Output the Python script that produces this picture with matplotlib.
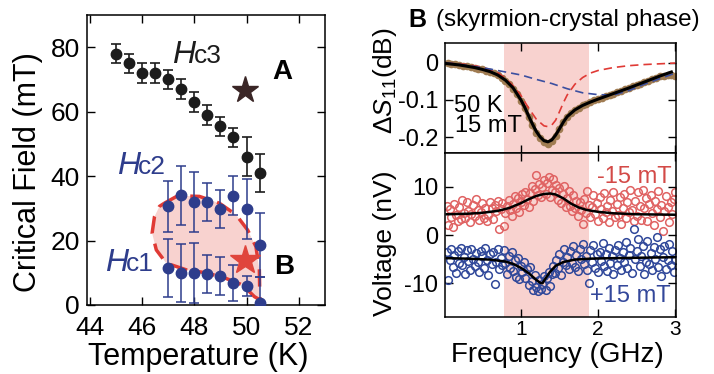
import numpy as np
import matplotlib
matplotlib.use('Agg')
import matplotlib.pyplot as plt

plt.rcParams['font.family'] = ['Liberation Sans', 'DejaVu Sans']
plt.rcParams['axes.unicode_minus'] = False
plt.rcParams['mathtext.fontset'] = 'custom'
plt.rcParams['mathtext.it'] = 'Liberation Sans:italic'
plt.rcParams['mathtext.rm'] = 'Liberation Sans'

# ---- panel A: critical fields vs temperature ----
temp_c3 = [45, 45.5, 46, 46.5, 47, 47.5, 48, 48.5, 49, 49.5, 50, 50.5]
hc3 = [78, 75, 72, 72, 70, 67, 63, 59, 55.5, 52, 46, 41]
hc3_err = [3, 3, 3, 3, 3, 3, 3, 3, 3, 3, 6, 6]

temp_c12 = [47, 47.5, 48, 48.5, 49, 49.5, 50, 50.5]
hc2 = [30.6, 34, 32, 32, 29.8, 33.9, 29.7, 18.6]
hc2_err = [7.8, 9.2, 9.3, 6, 6, 6, 9.3, 10]
hc1 = [11.4, 9.9, 10, 9.6, 9.0, 6.8, 5.9, 0.7]
hc1_err = [9, 9, 9.3, 6, 6, 5.7, 3, 8]

# skyrmion pocket outline (T, H)
pocket_t = [46.86, 47.37, 48.2, 48.96, 49.6, 50.04, 50.36, 50.49, 50.51, 50.3,
            49.85, 49.2, 48.45, 47.7, 46.93, 46.55, 46.39, 46.48, 46.67, 46.86]
pocket_h = [31.6, 33.9, 33.7, 31.6, 28, 23.3, 18.1, 10.9, 1.6, 2.6,
            6.2, 8.3, 10, 10.9, 13, 17.1, 22.3, 27.4, 30.6, 31.6]

star_a = (49.95, 66.6)
star_b = (49.95, 14)

# ---- panel B top: delta S11 ----
s11_data_f = [0.05, 0.10, 0.15, 0.20, 0.25, 0.30, 0.35, 0.40, 0.45, 0.50,
              0.55, 0.60, 0.65, 0.70, 0.75, 0.80, 0.85, 0.90, 0.95, 1.00,
              1.05, 1.10, 1.15, 1.20, 1.25, 1.30, 1.35, 1.40, 1.45, 1.50,
              1.55, 1.60, 1.65, 1.70, 1.75, 1.80, 1.85, 1.90, 1.95, 2.00,
              2.05, 2.10, 2.15, 2.20, 2.25, 2.30, 2.35, 2.40, 2.45, 2.50,
              2.55, 2.60, 2.65, 2.70, 2.75, 2.80, 2.85, 2.90, 2.95, 3.00]
s11_data = [-0.002, -0.003, -0.004, -0.006, -0.008, -0.010, -0.011, -0.013, -0.016, -0.018,
            -0.021, -0.024, -0.028, -0.033, -0.040, -0.048, -0.058, -0.070, -0.085, -0.102,
            -0.122, -0.145, -0.168, -0.188, -0.203, -0.214, -0.218, -0.212, -0.197, -0.178,
            -0.160, -0.145, -0.135, -0.127, -0.121, -0.115, -0.110, -0.105, -0.101, -0.097,
            -0.094, -0.090, -0.087, -0.083, -0.080, -0.076, -0.072, -0.068, -0.064, -0.060,
            -0.056, -0.052, -0.048, -0.044, -0.040, -0.037, -0.035, -0.034, -0.034, -0.035]

s11_fit_f = [0.02, 0.2, 0.4, 0.5, 0.6, 0.7, 0.8, 0.9, 1.0, 1.05, 1.1, 1.15, 1.2, 1.25,
             1.3, 1.35, 1.4, 1.45, 1.5, 1.55, 1.6, 1.7, 1.8, 1.9, 2.0, 2.2, 2.4, 2.6, 2.8, 2.95]
s11_fit = [-0.002, -0.006, -0.013, -0.018, -0.024, -0.033, -0.047, -0.068, -0.1, -0.12,
           -0.143, -0.165, -0.185, -0.2, -0.21, -0.213, -0.208, -0.195, -0.178, -0.16,
           -0.145, -0.127, -0.115, -0.106, -0.098, -0.083, -0.068, -0.052, -0.036, -0.025]

red_comp_f = [0.02, 0.3, 0.5, 0.6, 0.7, 0.8, 0.9, 1.0, 1.1, 1.2, 1.3, 1.35, 1.4, 1.45,
              1.5, 1.55, 1.6, 1.7, 1.8, 1.9, 2.0, 2.2, 2.4, 2.6, 2.8, 3.0]
red_comp = [0, -0.005, -0.012, -0.019, -0.027, -0.042, -0.062, -0.088, -0.122, -0.152,
            -0.17, -0.172, -0.168, -0.155, -0.132, -0.108, -0.087, -0.058, -0.04, -0.028,
            -0.021, -0.013, -0.008, -0.005, -0.003, -0.001]

blue_comp_f = [0.02, 0.3, 0.6, 0.8, 1.0, 1.2, 1.4, 1.6, 1.8, 2.0, 2.2, 2.4, 2.6, 2.8, 3.0]
blue_comp = [0, -0.007, -0.017, -0.025, -0.033, -0.045, -0.056, -0.07, -0.081, -0.086,
             -0.087, -0.075, -0.058, -0.043, -0.028]

# ---- panel B bottom: voltage ----
volt_f = np.linspace(0.04, 3.0, 149)
volt_neg = [6.1, 2.0, 5.3, 3.8, 1.6, 6.5, 4.2, 2.9, 5.8, 3.3,
            7.2, 4.6, 3.5, 6.8, 5.0, 2.7, 4.4, 6.3, 3.9, 7.4,
            5.2, 3.1, 4.8, 6.6, 3.6, 5.5, 2.8, 4.1, 6.9, 5.7,
            3.4, 6.2, 4.9, 7.0, 1.2, 5.4, 6.7, 1.8, 4.5, 6.0,
            7.3, 5.1, 3.9, 6.4, 8.0, 5.6, 7.7, 4.8, 6.9, 8.4,
            6.2, 9.0, 7.4, 5.9, 8.8, 10.2, 7.1, 9.5, 12.4, 8.3,
            10.6, 7.8, 9.9, 11.3, 8.6, 10.8, 12.0, 7.9, 9.4, 11.6,
            8.9, 10.3, 7.2, 9.7, 6.6, 8.5, 10.1, 5.8, 7.6, 9.2,
            6.1, 4.9, 8.3, 5.5, 7.0, 3.9, 6.8, 5.1, 2.2, 7.5,
            4.6, 9.1, 6.3, 3.7, 5.9, 8.2, 4.4, 6.6, 2.9, 7.8,
            5.3, 3.5, 8.7, 4.8, 6.1, 2.6, 7.3, 5.0, 9.0, 3.8,
            6.4, 4.2, 7.9, 2.3, 5.6, 8.5, 3.6, 6.9, 4.7, 9.3,
            5.2, 2.8, 7.1, 4.0, 8.9, 6.0, 3.2, 9.4, 5.5, 7.6,
            3.0, 6.5, 8.2, 4.5, 2.1, 7.0, 5.3, 9.1, 3.7, 6.2,
            0.8, 4.9, 8.0, 5.8, 2.7, 6.8, 4.3, 7.4, 9.0]
volt_pos = [-3.6, -9.3, -5.1, -2.8, -6.7, -4.2, -7.9, -3.4, -5.8, -2.6,
            -6.3, -4.6, -8.1, -3.1, -5.4, -7.2, -2.9, -4.9, -6.5, -3.8,
            -5.6, -7.6, -3.3, -4.4, -6.9, -2.7, -5.2, -8.3, -4.0, -6.1,
            -3.5, -10.1, -5.5, -2.9, -7.0, -4.7, -6.2, -3.2, -5.9, -8.0,
            -4.3, -6.8, -3.6, -7.5, -5.1, -8.7, -4.8, -9.2, -6.4, -7.7,
            -5.7, -8.9, -7.1, -10.3, -6.6, -9.5, -11.4, -8.2, -10.8, -11.6,
            -9.4, -11.2, -10.1, -8.5, -11.5, -9.0, -7.6, -10.6, -8.0, -6.5,
            -7.8, -5.2, -6.9, -3.9, -8.3, -5.7, -2.8, -6.2, -4.5, -7.1,
            -3.4, -5.9, -2.3, -6.6, -4.1, -7.4, -3.0, -5.0, -1.9, -6.0,
            -4.4, -7.2, -10.0, -3.2, -5.6, -2.1, -6.8, -4.0, -7.7, -3.5,
            -5.3, -1.6, -6.4, -3.9, -7.5, -2.6, -5.8, -4.3, -8.1, -3.1,
            -6.2, -2.0, -4.8, -7.3, -3.6, -5.5, -1.4, -6.9, -4.1, -2.7,
            -7.8, 1.3, -5.0, -3.3, -0.8, -6.5, -4.4, -2.2, -8.0, -5.7,
            -1.2, -6.1, -3.7, -7.2, -2.5, -4.9, -0.5, -6.7, -3.0, -8.4,
            -4.6, -2.3, -7.0, -5.2, -1.8, -6.3, -3.4, -7.6, -5.1]

neg_fit_f = [0.04, 0.3, 0.5, 0.7, 0.85, 1.0, 1.1, 1.2, 1.3, 1.38, 1.45, 1.55, 1.65,
             1.75, 1.85, 2.0, 2.2, 2.5, 3.0]
neg_fit = [4.3, 4.4, 4.6, 5.0, 5.6, 6.6, 7.4, 8.1, 8.5, 8.6, 8.4, 7.6, 6.5,
           5.7, 5.2, 4.8, 4.5, 4.3, 4.2]
pos_fit_f = [0.04, 0.3, 0.6, 0.8, 0.9, 1.0, 1.1, 1.15, 1.2, 1.25, 1.28, 1.32, 1.38,
             1.45, 1.55, 1.7, 1.9, 2.2, 2.6, 3.0]
pos_fit = [-4.8, -4.9, -5.1, -5.5, -6.0, -6.8, -7.9, -8.6, -9.3, -9.9, -10.0, -9.0, -7.6,
           -6.4, -5.6, -5.1, -4.9, -4.8, -4.7, -4.6]

band = (0.78, 1.88)

navy = '#2e3d8c'
red = '#e03a35'
pink = '#f8d2cf'

W, H = 714, 374
fig = plt.figure(figsize=(W / 100, H / 100), dpi=100)

def box(l, t, r, b):
    return [l / W, 1 - b / H, (r - l) / W, (b - t) / H]

def style(ax, size, pad=5):
    ax.tick_params(direction='in', top=True, right=True, length=6, width=1,
                   labelsize=size, pad=pad)
    for s in ax.spines.values():
        s.set_linewidth(1.1)

# panel A
ax = fig.add_axes(box(87, 15, 325, 305))
ax.fill(pocket_t, pocket_h, color=pink, zorder=1, lw=0)
ax.plot(pocket_t, pocket_h, color=red, lw=2.5, dashes=(5, 3), zorder=2)
ax.errorbar(temp_c3, hc3, yerr=hc3_err, fmt='o', color='#1c1c1c', ms=7.5,
            capsize=3.5, elinewidth=1.2, capthick=1.2, zorder=3)
ax.errorbar(temp_c12, hc2, yerr=hc2_err, fmt='o', color=navy, ms=7.5,
            capsize=3.5, elinewidth=1.1, capthick=1.1, zorder=3)
ax.errorbar(temp_c12, hc1, yerr=hc1_err, fmt='o', color=navy, ms=7.5,
            capsize=3.5, elinewidth=1.1, capthick=1.1, zorder=3)
ax.plot(*star_a, marker='*', color='#3a2626', ms=20, zorder=4)
ax.plot(*star_b, marker='*', color='#e0453c', ms=22, zorder=4)
ax.set_xlim(43.9, 53.0)
ax.set_ylim(0, 90)
ax.set_xticks([44, 46, 48, 50, 52])
ax.set_yticks([0, 20, 40, 60, 80])
style(ax, 19)
ax.tick_params(axis='x', pad=8)
ax.text(47.15, 75.1, 'H', style='italic', fontsize=23, color='#1c1c1c', va='baseline')
ax.text(47.97, 75.1, 'c3', fontsize=19, color='#1c1c1c', va='baseline')
ax.text(45.05, 40.6, 'H', style='italic', fontsize=23, color=navy, va='baseline')
ax.text(45.85, 40.6, 'c2', fontsize=19, color=navy, va='baseline')
ax.text(44.58, 10.7, 'H', style='italic', fontsize=23, color=navy, va='baseline')
ax.text(45.4, 10.7, 'c1', fontsize=19, color=navy, va='baseline')
ax.text(51.37, 72.4, 'A', fontsize=20, weight='bold', ha='center', va='center')
ax.text(51.44, 11.8, 'B', fontsize=20, weight='bold', ha='center', va='center')

fig.text(28 / W, 1 - 172 / H, 'Critical Field (mT)', rotation=90, fontsize=22,
         ha='center', va='center')
fig.text(198 / W, 1 - 365 / H, 'Temperature (K)', fontsize=22, ha='center',
         va='baseline')

# panel B top
at = fig.add_axes(box(445, 43, 676, 153))
at.axvspan(*band, color=pink, lw=0, zorder=0)
at.plot(s11_data_f, s11_data, 'o-', color='#a07c52', ms=4.5, lw=3, zorder=2)
at.plot(red_comp_f, red_comp, color=red, lw=1.2, dashes=(5, 3), zorder=3)
at.plot(blue_comp_f, blue_comp, color='#3b4fa0', lw=1.2, dashes=(5, 3), zorder=3)
at.plot(s11_fit_f, s11_fit, color='black', lw=2.2, zorder=4)
at.set_xlim(0.017, 3.01)
at.set_ylim(-0.243, 0.053)
at.set_xticks([1, 2, 3])
at.set_yticks([0, -0.1, -0.2])
at.set_yticklabels(['0', '-0.1', '-0.2'])
style(at, 17)
at.tick_params(labelbottom=False)
at.text(0.13, -0.116, '50 K', fontsize=17, va='center')
at.text(0.15, -0.17, '15 mT', fontsize=17, va='center')

# panel B bottom
ab = fig.add_axes(box(445, 153, 676, 317))
ab.axvspan(*band, color=pink, lw=0, zorder=0)
ab.plot(volt_f, volt_neg, 'o', mfc='none', mec='#e06363', ms=5.5, mew=1.1, zorder=2)
ab.plot(volt_f, volt_pos, 'o', mfc='none', mec='#30489a', ms=5.5, mew=1.1, zorder=2)
ab.plot(neg_fit_f, neg_fit, color='black', lw=1.8, zorder=3)
ab.plot(pos_fit_f, pos_fit, color='black', lw=1.8, zorder=3)
ab.set_xlim(0.017, 3.01)
ab.set_ylim(-17, 17)
ab.set_xticks([1, 2, 3])
ab.set_yticks([-10, 0, 10])
style(ab, 17)
ab.tick_params(axis='x', labelsize=15, pad=2)
ab.text(1.99, 12.1, '-15 mT', fontsize=17, color='#d34a47', va='center')
ab.text(1.9, -12.7, '+15 mT', fontsize=17, color='#33479a', va='center')

fig.text(408 / W, 1 - 20 / H, 'B', fontsize=18, weight='bold', va='center')
fig.text(436 / W, 1 - 20 / H, '(skyrmion-crystal phase)', fontsize=17.5, va='center')
fig.text(385 / W, 1 - 81 / H, r'$\mathit{\Delta S}_{\mathrm{11}}$(dB)', rotation=90,
         fontsize=19, ha='center', va='center')
fig.text(385 / W, 1 - 243 / H, 'Voltage (nV)', rotation=90, fontsize=19,
         ha='center', va='center')
fig.text(557 / W, 1 - 362 / H, 'Frequency (GHz)', fontsize=20, ha='center',
         va='baseline')

fig.savefig('out.png', dpi=100)
